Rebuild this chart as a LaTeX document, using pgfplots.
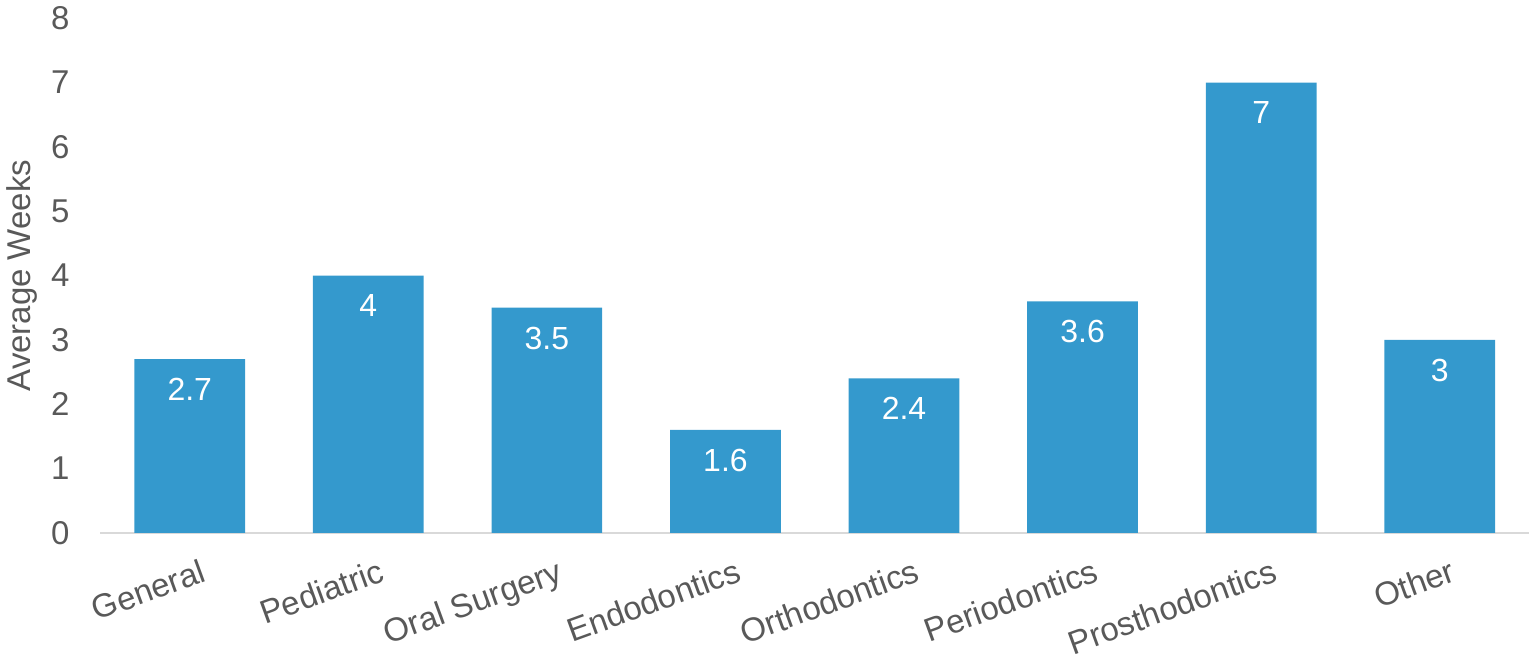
\documentclass[border=0pt]{standalone}
\usepackage{pgfplots}
\pgfplotsset{compat=1.18}
\usepackage{fontspec}
\setmainfont{Liberation Sans}
\definecolor{barblue}{HTML}{3499CD}
\definecolor{txtgrey}{HTML}{595959}
\definecolor{axgrey}{HTML}{D9D9D9}
\begin{document}
\begin{tikzpicture}
\begin{axis}[
    scale only axis,
    width=715pt, height=257.5pt,
    ybar, bar width=0.62,
    xmin=-0.5, xmax=7.5,
    ymin=0, ymax=8,
    xtick=data,
    xticklabels={General, Pediatric, Oral Surgery, Endodontics, Orthodontics, Periodontics, Prosthodontics, Other},
    ytick={0,1,...,8},
    axis lines*=left,
    y axis line style={draw=none},
    x axis line style={draw=axgrey, line width=1pt, -},
    tick style={draw=none},
    ticklabel style={font=\fontsize{16.5}{19}\selectfont, text=txtgrey},
    /pgf/number format/assume math mode=true,
    xticklabel style={rotate=20, anchor=north east, yshift=-6pt, xshift=5pt},
    yticklabel style={xshift=-12pt},
    ylabel={Average Weeks},
    ylabel style={font=\fontsize{16.5}{19}\selectfont, text=txtgrey, yshift=0pt},
    nodes near coords,
    nodes near coords style={anchor=north, yshift=-6pt, text=white, font=\fontsize{16}{19}\selectfont},
    point meta=explicit symbolic,
]
\addplot[fill=barblue, draw=none] coordinates {
    (0,2.7) [2.7] (1,4) [4] (2,3.5) [3.5] (3,1.6) [1.6]
    (4,2.4) [2.4] (5,3.6) [3.6] (6,7) [7] (7,3) [3]
};
\end{axis}
\end{tikzpicture}
\end{document}
